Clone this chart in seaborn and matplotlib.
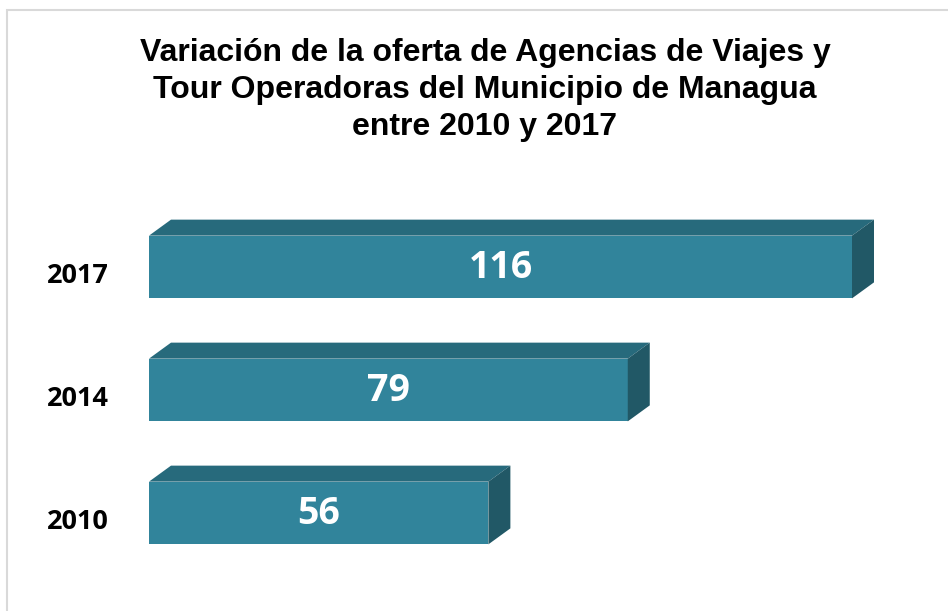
import matplotlib
matplotlib.use("Agg")
import matplotlib.pyplot as plt
import seaborn as sns
import pandas as pd
from matplotlib.patches import Polygon, Rectangle

years = ["2017", "2014", "2010"]
values = [116, 79, 56]
title = "Variación de la oferta de Agencias de Viajes y\nTour Operadoras del Municipio de Managua\nentre 2010 y 2017"

sns.set_theme(style="white")
plt.rcParams['font.family'] = ['Liberation Sans', 'DejaVu Sans']

W, H = 948, 611
fig = plt.figure(figsize=(W / 100, H / 100), dpi=100)
fig.patch.set_facecolor("white")

# light border
fig.add_artist(Rectangle((7 / W, -0.1), 1.2, 1 - 10 / H + 0.1, transform=fig.transFigure,
                         fill=False, edgecolor="#d9d9d9", linewidth=1.5))

x0px, x1px = 149, 852
ytop, ybot = 205.5, 574.5
ax = fig.add_axes([x0px / W, 1 - ybot / H, (x1px - x0px) / W, (ybot - ytop) / H])

df = pd.DataFrame({"year": years, "value": values})
front = "#31849b"
top_c = "#276a7c"
side_c = "#215866"
bh = 0.51
sns.barplot(data=df, x="value", y="year", orient="h", color=front, width=bh,
            saturation=1, ax=ax, order=years, linewidth=0, edgecolor="none")
ax.set_xlim(0, 116)
ax.set_ylim(2.5, -0.5)
ax.axis("off")

lab_font = ["Open Sans", "DejaVu Sans"]
# 3D faces: offsets in data units from pixels
dx = 22 / (x1px - x0px) * 116
dy = 16 / ((ybot - ytop) / 3)
for i, v in enumerate(values):
    yt = i - bh / 2
    yb = i + bh / 2
    topf = Polygon([(0, yt), (dx, yt - dy), (v + dx, yt - dy), (v, yt)],
                   closed=True, facecolor=top_c, edgecolor="none", clip_on=False)
    sidef = Polygon([(v, yt), (v + dx, yt - dy), (v + dx, yb - dy), (v, yb)],
                    closed=True, facecolor=side_c, edgecolor="none", clip_on=False)
    ax.add_patch(topf)
    ax.add_patch(sidef)
    ax.text(v / 2, i + 0.01, str(v), ha="center", va="center", color="white",
            fontsize=27, fontweight="bold", family=lab_font)
    fig.text(78 / W, 1 - (276 + 123 * i) / H, years[i], ha="center", va="center",
             fontsize=19.5, fontweight="bold", color="black", family=lab_font)

fig.text(485 / W, 1 - 38 / H, title, ha="center", va="top", fontsize=23,
         fontweight="bold", color="black", linespacing=1.3)

fig.savefig("out.png", dpi=100, facecolor="white")
